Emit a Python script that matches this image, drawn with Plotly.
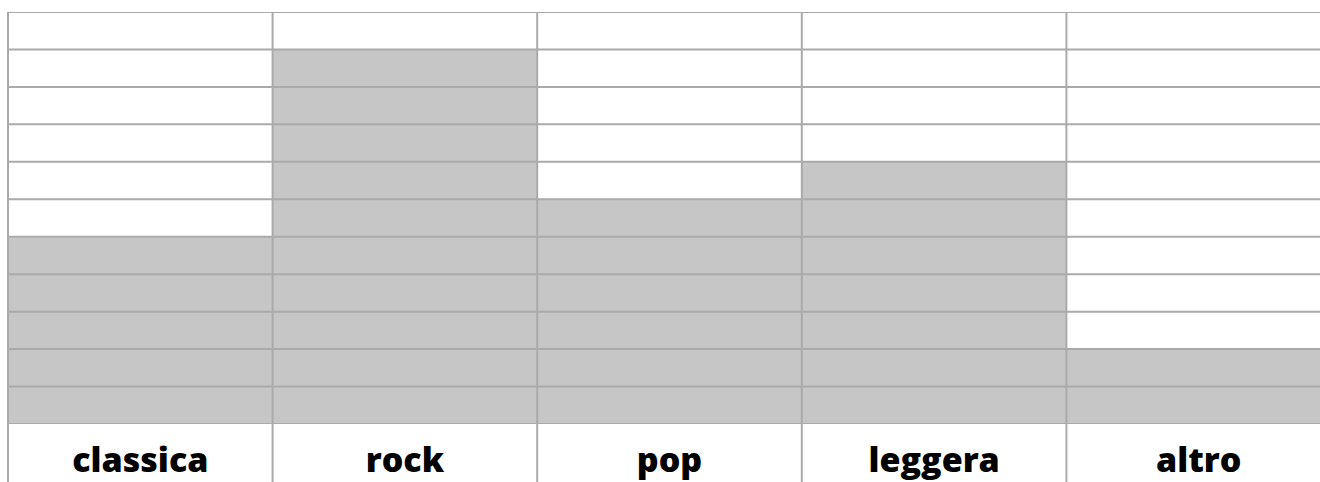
import plotly.graph_objects as go

categories = ["classica", "rock", "pop", "leggera", "altro"]
values = [5, 10, 6, 7, 2]
y_max = 11
y_ticks = list(range(0, y_max + 1))

W, H = 1320, 482
ml, mr, mt, mb = 8, 0, 12, 55
cat_px = 264.6
plot_w = W - ml - mr
x0 = -0.5
x1 = x0 + plot_w / cat_px

grid_color = "#aaaaaa"
grid_w = 2

fig = go.Figure(go.Bar(
    x=list(range(len(categories))), y=values,
    marker=dict(color="#c6c6c6", line=dict(width=0)),
    width=1.0, hoverinfo="skip",
))

shapes = []
for v in y_ticks:
    shapes.append(dict(type="line", xref="paper", yref="y", x0=0, x1=1, y0=v, y1=v,
                       line=dict(color=grid_color, width=grid_w), layer="above"))
ext = mb / (H - mt - mb)
for i in range(len(categories)):
    b = i - 0.5
    px = (b - x0) / (x1 - x0)
    shapes.append(dict(type="line", xref="paper", yref="paper", x0=px, x1=px, y0=-ext - 0.02, y1=1,
                       line=dict(color=grid_color, width=grid_w), layer="above"))

fig.update_layout(
    width=W, height=H,
    margin=dict(l=ml, r=mr, t=mt, b=mb, pad=0),
    paper_bgcolor="white", plot_bgcolor="white",
    bargap=0, showlegend=False,
    shapes=shapes,
    xaxis=dict(range=[x0, x1], tickvals=list(range(len(categories))), ticktext=categories,
               showgrid=False, zeroline=False, showline=False, ticks="",
               tickfont=dict(family="Open Sans", size=34, color="#000000", weight=800),
               ticklabelstandoff=13),
    yaxis=dict(range=[0, y_max], showgrid=False, zeroline=False, showticklabels=False,
               ticks="", fixedrange=True),
)

fig.write_html("out.html",
               config={"displayModeBar": False, "staticPlot": True},
               post_script="document.body.style.margin='0';document.body.style.overflow='hidden';")
